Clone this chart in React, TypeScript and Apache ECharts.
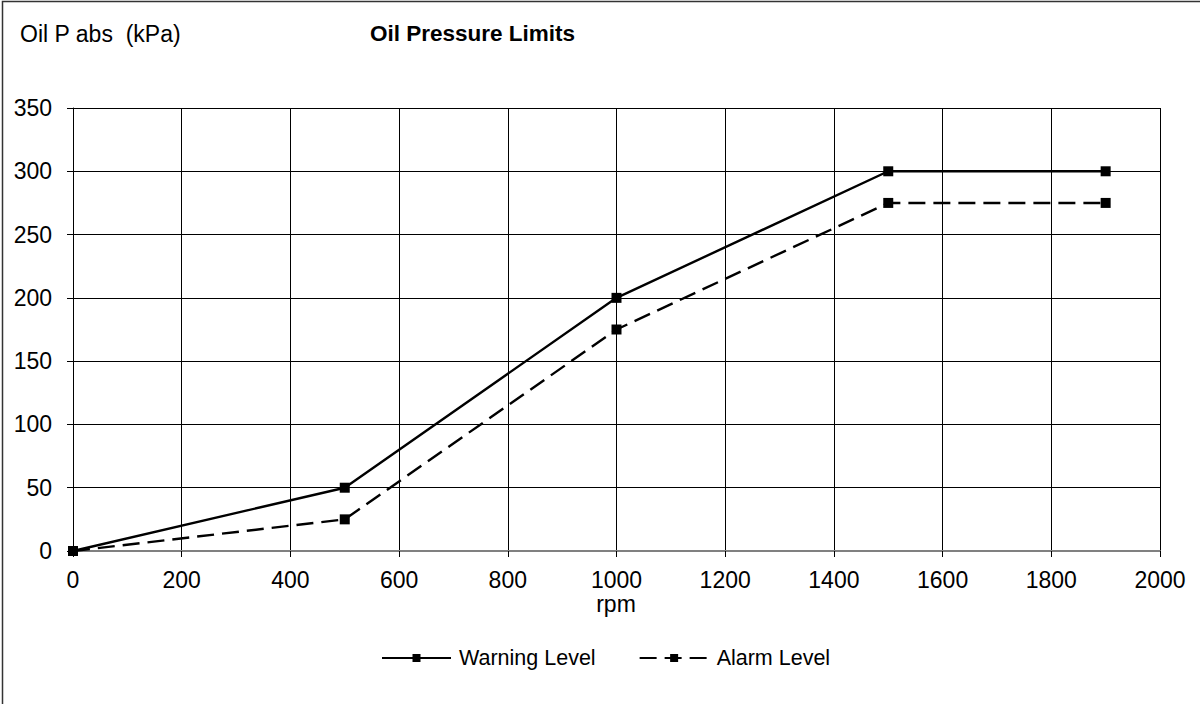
import React, { useEffect, useRef } from "react";
import * as echarts from "echarts";

const rpm = [0, 500, 1000, 1500, 1900];
const warningLevel = [0, 50, 200, 300, 300];
const alarmLevel = [0, 25, 175, 275, 275];
const seriesNames = ["Warning Level", "Alarm Level"];
const titleText = "Oil Pressure Limits";
const yAxisTitle = "Oil P abs  (kPa)";
const xAxisTitle = "rpm";

const FONT = "'Liberation Sans', Arial, sans-serif";
const FS_AXIS = 23;
const FS_LEGEND = 21.5;
const FS_TITLE = 22.5;

export default function App() {
  const ref = useRef<HTMLDivElement>(null);
  useEffect(() => {
    if (!ref.current) return;
    const chart = echarts.init(ref.current, null, { renderer: "svg" });
    const toPairs = (ys: number[]) => rpm.map((x, i) => [x, ys[i]]);
    chart.setOption({
      animation: false,
      backgroundColor: "#ffffff",
      textStyle: { fontFamily: FONT },
      grid: { left: 73, right: 40, top: 108, bottom: 153, containLabel: false },
      graphic: [
        {
          type: "rect",
          shape: { x: 2.5, y: 1.5, width: 1400, height: 900 },
          style: { fill: "none", stroke: "#333333", lineWidth: 1.5 },
          silent: true,
        },
        {
          type: "text",
          left: 20,
          top: 22,
          style: { text: yAxisTitle, fontSize: FS_AXIS, fontFamily: FONT, fill: "#000" },
        },
        {
          type: "text",
          left: 370,
          top: 22,
          style: { text: titleText, fontSize: FS_TITLE, fontWeight: "bold", fontFamily: FONT, fill: "#000" },
        },
        {
          type: "text",
          x: 616,
          y: 592,
          style: { text: xAxisTitle, fontSize: FS_AXIS, fontFamily: FONT, fill: "#000", align: "center" },
        },
      ],
      legend: {
        data: seriesNames,
        left: 381,
        top: 647,
        padding: 0,
        itemWidth: 69,
        itemHeight: 10,
        itemGap: 43,
        textStyle: { fontSize: FS_LEGEND, fontFamily: FONT, color: "#000", padding: [0, 0, 0, 3] },
      },
      xAxis: {
        type: "value",
        min: 0,
        max: 2000,
        interval: 200,
        axisLine: { show: true, onZero: false, lineStyle: { color: "#808080", width: 2 } },
        axisTick: { show: true, inside: false, length: 6, lineStyle: { color: "#000", width: 1 } },
        axisLabel: {
          fontSize: FS_AXIS,
          fontFamily: FONT,
          color: "#000",
          margin: 17,
          formatter: (v: number) => String(v),
        },
        splitLine: { show: true, lineStyle: { color: "#000", width: 1 } },
      },
      yAxis: {
        type: "value",
        min: 0,
        max: 350,
        interval: 50,
        axisLine: { show: true, lineStyle: { color: "#000", width: 1 } },
        axisTick: { show: true, inside: false, length: 6, lineStyle: { color: "#000", width: 1 } },
        axisLabel: {
          fontSize: FS_AXIS,
          fontFamily: FONT,
          color: "#000",
          margin: 21,
          formatter: (v: number) => String(v),
        },
        splitLine: { show: true, lineStyle: { color: "#000", width: 1 } },
      },
      series: [
        {
          name: seriesNames[0],
          type: "line",
          data: toPairs(warningLevel),
          symbol: "rect",
          symbolSize: 10,
          itemStyle: { color: "#000" },
          lineStyle: { color: "#000", width: 2.4, type: "solid" },
        },
        {
          name: seriesNames[1],
          type: "line",
          data: toPairs(alarmLevel),
          symbol: "rect",
          symbolSize: 10,
          itemStyle: { color: "#000" },
          lineStyle: { color: "#000", width: 2.4, type: [17, 8] },
        },
      ],
    });
    return () => chart.dispose();
  }, []);
  return (
    <div
      ref={ref}
      style={{ position: "fixed", left: 0, top: 0, width: 1200, height: 704, background: "#fff" }}
    />
  );
}
